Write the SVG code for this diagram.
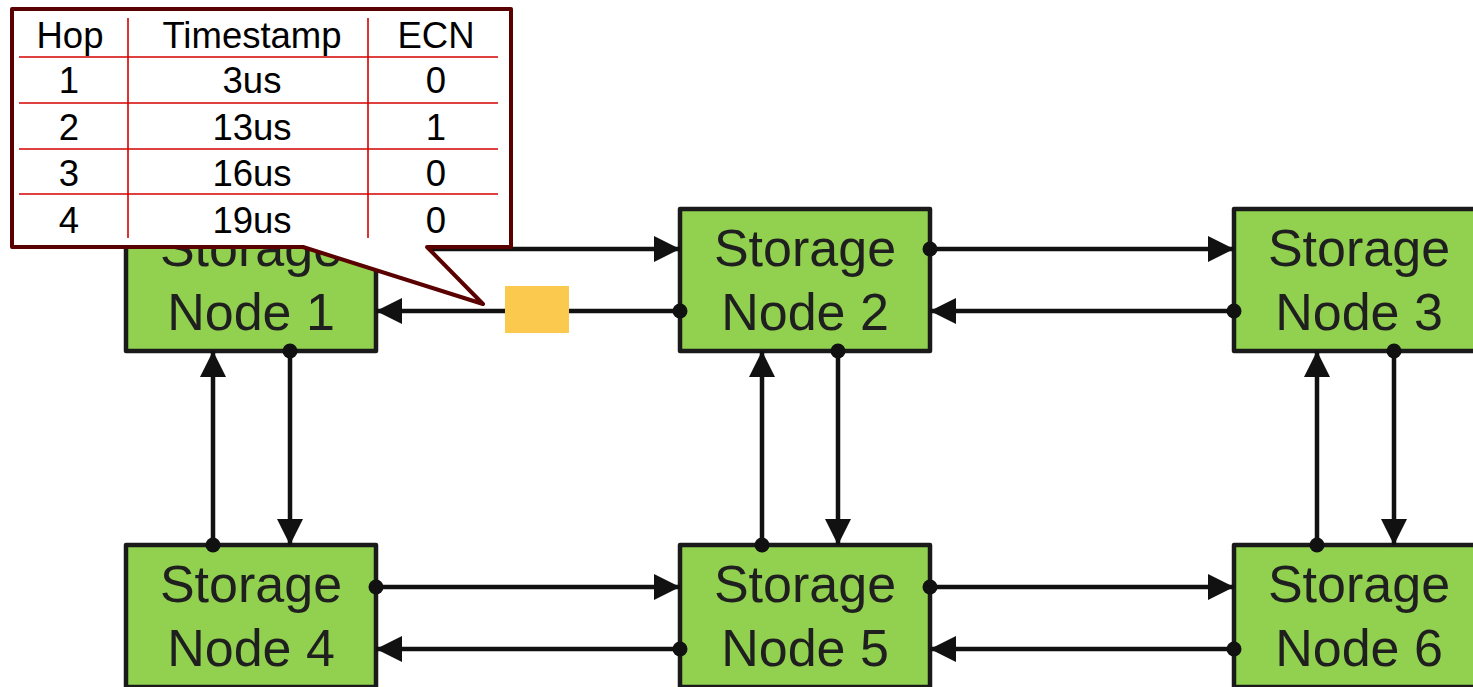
<svg xmlns="http://www.w3.org/2000/svg" width="1473" height="687" viewBox="0 0 1473 687">
  <style>
    .node rect { fill: #92d050; stroke: #1a1a1a; stroke-width: 4.5; stroke-linejoin: round; }
    .node text { font-family: "Liberation Sans", Arial, sans-serif; font-size: 52px; fill: #1f1f1f; text-anchor: middle; }
    .conn line { stroke: #111; stroke-width: 4.5; marker-end: url(#arrow); }
    .conn circle { fill: #111; }
    .callout { fill: #fff; stroke: #5a0000; stroke-width: 4; stroke-linejoin: round; }
    .grid line { stroke: #d40000; stroke-width: 1.6; }
    .cell { font-family: "Liberation Sans", Arial, sans-serif; font-size: 36.5px; fill: #000; text-anchor: middle; }
  </style>
  <defs>
    <marker id="arrow" viewBox="0 0 26 26" refX="26" refY="13" markerWidth="26" markerHeight="26" markerUnits="userSpaceOnUse" orient="auto">
      <path d="M0,0 L26,13 L0,26 Z" fill="#111"/>
    </marker>
  </defs>

  <rect width="1473" height="687" fill="#fff"/>

  <!-- storage nodes -->
  <g id="node1" class="node">
    <rect x="126" y="209" width="250" height="142"/>
    <text x="251" y="266">Storage</text>
    <text x="251" y="330">Node 1</text>
  </g>
  <g id="node2" class="node">
    <rect x="680" y="209" width="250" height="142"/>
    <text x="805" y="266">Storage</text>
    <text x="805" y="330">Node 2</text>
  </g>
  <g id="node3" class="node">
    <rect x="1234" y="209" width="250" height="142"/>
    <text x="1359" y="266">Storage</text>
    <text x="1359" y="330">Node 3</text>
  </g>
  <g id="node4" class="node">
    <rect x="126" y="545" width="250" height="142"/>
    <text x="251" y="602">Storage</text>
    <text x="251" y="666">Node 4</text>
  </g>
  <g id="node5" class="node">
    <rect x="680" y="545" width="250" height="142"/>
    <text x="805" y="602">Storage</text>
    <text x="805" y="666">Node 5</text>
  </g>
  <g id="node6" class="node">
    <rect x="1234" y="545" width="250" height="142"/>
    <text x="1359" y="602">Storage</text>
    <text x="1359" y="666">Node 6</text>
  </g>

  <!-- links between nodes: dot marks the source, arrowhead the destination -->
  <g id="connectors" class="conn">
    <!-- top row -->
    <line x1="376" y1="249" x2="680" y2="249"/><circle cx="376" cy="249" r="7.5"/>
    <line x1="680" y1="311" x2="376" y2="311"/><circle cx="680" cy="311" r="7.5"/>
    <line x1="930" y1="249" x2="1234" y2="249"/><circle cx="930" cy="249" r="7.5"/>
    <line x1="1234" y1="311" x2="930" y2="311"/><circle cx="1234" cy="311" r="7.5"/>
    <!-- bottom row -->
    <line x1="376" y1="587" x2="680" y2="587"/><circle cx="376" cy="587" r="7.5"/>
    <line x1="680" y1="649" x2="376" y2="649"/><circle cx="680" cy="649" r="7.5"/>
    <line x1="930" y1="587" x2="1234" y2="587"/><circle cx="930" cy="587" r="7.5"/>
    <line x1="1234" y1="649" x2="930" y2="649"/><circle cx="1234" cy="649" r="7.5"/>
    <!-- verticals -->
    <line x1="213" y1="545" x2="213" y2="351"/><circle cx="213" cy="545" r="7.5"/>
    <line x1="290" y1="351" x2="290" y2="545"/><circle cx="290" cy="351" r="7.5"/>
    <line x1="762" y1="545" x2="762" y2="351"/><circle cx="762" cy="545" r="7.5"/>
    <line x1="838" y1="351" x2="838" y2="545"/><circle cx="838" cy="351" r="7.5"/>
    <line x1="1317" y1="545" x2="1317" y2="351"/><circle cx="1317" cy="545" r="7.5"/>
    <line x1="1394" y1="351" x2="1394" y2="545"/><circle cx="1394" cy="351" r="7.5"/>
  </g>

  <!-- packet in flight -->
  <rect id="packet" x="505" y="286" width="64" height="47" fill="#fbc94e"/>

  <!-- telemetry callout -->
  <g id="callout">
    <path class="callout" d="M12,9 H511 V247 H427 L483,304 L303,247 H12 Z"/>
    <g class="grid">
      <line x1="128" y1="18" x2="128" y2="238"/>
      <line x1="368" y1="18" x2="368" y2="238"/>
      <line x1="19" y1="57" x2="498" y2="57"/>
      <line x1="19" y1="103" x2="498" y2="103"/>
      <line x1="19" y1="149" x2="498" y2="149"/>
      <line x1="19" y1="194" x2="498" y2="194"/>
    </g>
    <text class="cell" x="70" y="48">Hop</text>
    <text class="cell" x="252" y="48">Timestamp</text>
    <text class="cell" x="436" y="48">ECN</text>
    <text class="cell" x="69" y="93">1</text>
    <text class="cell" x="252" y="93">3us</text>
    <text class="cell" x="436" y="93">0</text>
    <text class="cell" x="69" y="140">2</text>
    <text class="cell" x="252" y="140">13us</text>
    <text class="cell" x="436" y="140">1</text>
    <text class="cell" x="69" y="186">3</text>
    <text class="cell" x="252" y="186">16us</text>
    <text class="cell" x="436" y="186">0</text>
    <text class="cell" x="69" y="233">4</text>
    <text class="cell" x="252" y="233">19us</text>
    <text class="cell" x="436" y="233">0</text>
  </g>
</svg>
